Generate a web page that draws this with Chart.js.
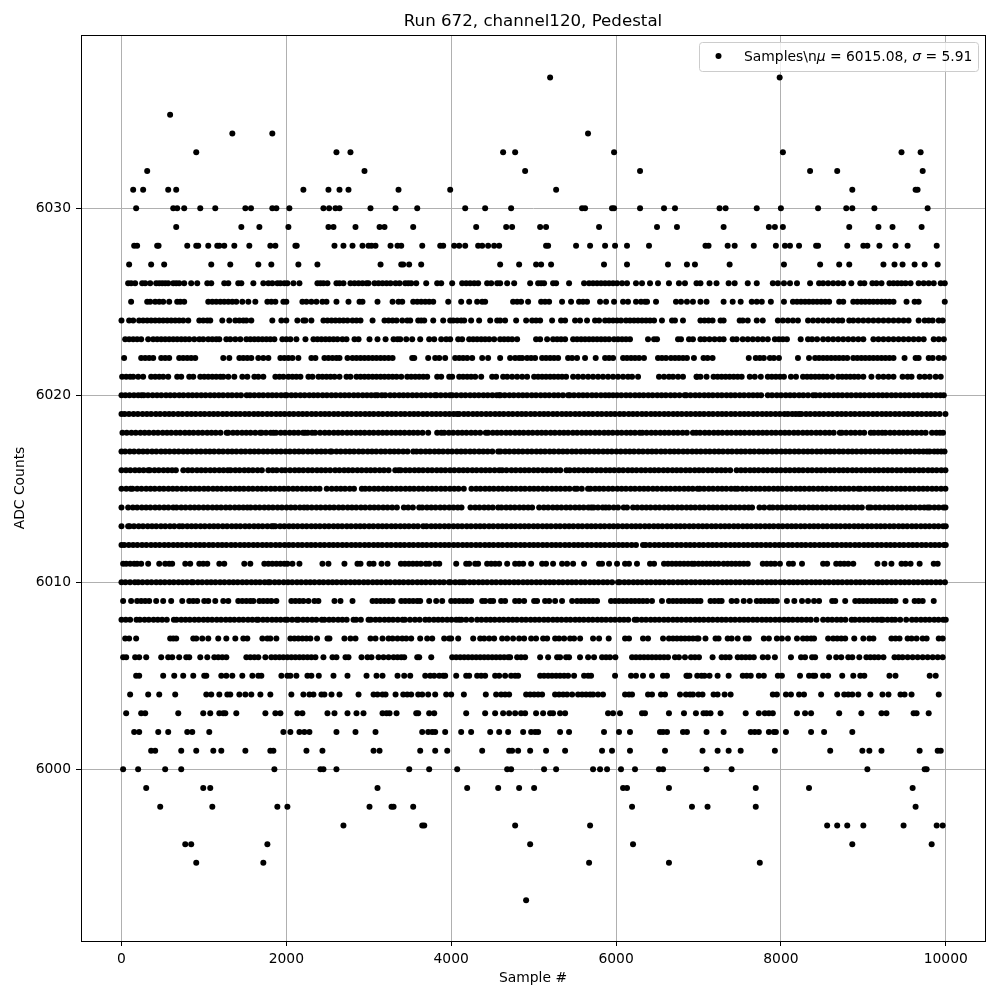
<!DOCTYPE html>
<html>
<head>
<meta charset="utf-8">
<title>Run 672, channel120, Pedestal</title>
<script src="https://cdn.jsdelivr.net/npm/chart.js@4"></script>
<style>
  html, body { margin: 0; padding: 0; background: #fff; }
  canvas { display: block; }
</style>
</head>
<body>
<canvas id="pedestalChart" width="1000" height="1000"></canvas>
<script>
const xTicks = [0, 2000, 4000, 6000, 8000, 10000];
const yTicks = [6000, 6010, 6020, 6030];

// Sample numbers, one list per ADC level
const adc6037 = [5200, 7985];
const adc6035 = [590];
const adc6034 = [1345, 1830, 5660];
const adc6033 = [907, 2608, 2778, 4630, 4776, 5976, 8024, 9463, 9695];
const adc6032 = [312, 2948, 4897, 6291, 8354, 8683, 9720];
const adc6031 = [142, 263, 567, 664, 2207, 2511, 2645, 2754, 3361, 3988, 5273, 8866, 9634, 9658];
const adc6030 = [178, 628, 676, 761, 956, 1138, 1503, 1571, 1830, 1879, 2037, 2450, 2519, 2596, 2645, 3021, 3325, 3588, 4170, 4412, 4727, 5588, 5624, 5951, 5976, 6291, 6582, 6715, 7256, 7329, 7707, 8000, 8451, 8793, 8866, 9134, 9780];
const adc6029 = [664, 1454, 1673, 2025, 2511, 2572, 2839, 3131, 3191, 3539, 4303, 4667, 4739, 5079, 5151, 5794, 6497, 6739, 7305, 7854, 7927, 8024, 8829, 9183, 9354, 9707];
const adc6028 = [154, 190, 433, 450, 798, 907, 931, 1053, 1162, 1187, 1247, 1369, 1551, 1806, 1867, 2110, 2126, 2584, 2693, 2803, 2924, 2997, 3033, 3082, 3264, 3349, 3394, 3649, 3867, 3903, 4036, 4097, 4170, 4327, 4376, 4448, 4521, 4582, 5151, 5176, 5515, 5685, 5867, 5988, 6133, 6400, 7085, 7122, 7354, 7439, 7671, 7939, 8049, 8110, 8220, 8427, 8451, 8805, 9000, 9049, 9195, 9390, 9537, 9890];
const adc6027 = [93, 360, 518, 1089, 1320, 1660, 1818, 2146, 2377, 3143, 3394, 3418, 3490, 3636, 4594, 4824, 5030, 5091, 5212, 5854, 6133, 6630, 6860, 6957, 7378, 8037, 8476, 8707, 8829, 9244, 9378, 9476, 9622, 9744, 9902];
const adc6026 = [81, 117, 166, 251, 288, 348, 421, 458, 494, 530, 567, 628, 664, 700, 761, 846, 919, 1041, 1089, 1247, 1296, 1417, 1454, 1600, 1721, 1782, 1830, 1891, 1928, 1976, 2013, 2086, 2159, 2377, 2414, 2450, 2499, 2608, 2645, 2693, 2778, 2827, 2876, 2924, 2973, 2997, 3070, 3118, 3167, 3216, 3264, 3325, 3374, 3442, 3479, 3515, 3576, 3697, 3830, 3879, 4012, 4133, 4182, 4230, 4279, 4327, 4436, 4485, 4558, 4594, 4679, 4764, 4958, 5055, 5091, 5127, 5236, 5273, 5430, 5612, 5673, 5721, 5770, 5818, 5867, 5915, 5964, 6012, 6073, 6133, 6242, 6315, 6412, 6509, 6642, 6763, 6836, 6976, 7024, 7134, 7219, 7366, 7439, 7598, 7707, 7902, 7963, 8037, 8110, 8195, 8354, 8463, 8512, 8573, 8634, 8695, 8756, 8854, 8963, 9012, 9110, 9159, 9220, 9317, 9366, 9415, 9463, 9512, 9573, 9671, 9732, 9793, 9854, 9939, 9988];
const adc6025 = [117, 312, 348, 409, 458, 506, 579, 676, 713, 761, 1053, 1102, 1150, 1199, 1247, 1296, 1345, 1393, 1466, 1539, 1624, 1770, 1818, 1867, 1964, 2000, 2195, 2244, 2304, 2365, 2438, 2487, 2608, 2754, 2888, 2924, 3106, 3289, 3361, 3406, 3539, 3588, 3636, 3685, 3733, 3782, 3964, 4121, 4218, 4315, 4376, 4412, 4751, 4800, 4848, 4933, 5091, 5139, 5188, 5345, 5454, 5551, 5600, 5648, 5806, 5879, 5976, 6085, 6145, 6242, 6303, 6351, 6376, 6485, 6727, 6788, 6860, 6933, 7024, 7098, 7305, 7415, 7512, 7646, 7707, 7768, 7878, 8037, 8146, 8195, 8244, 8293, 8341, 8390, 8439, 8488, 8537, 8585, 8707, 8756, 8878, 8927, 8976, 9024, 9073, 9122, 9171, 9220, 9268, 9317, 9366, 9524, 9622, 9671, 9988];
const adc6024 = [0, 93, 142, 214, 263, 312, 360, 409, 458, 506, 555, 603, 652, 700, 749, 810, 944, 992, 1041, 1077, 1223, 1308, 1381, 1430, 1478, 1515, 1575, 1830, 1940, 2000, 2134, 2207, 2231, 2304, 2450, 2499, 2548, 2596, 2645, 2693, 2742, 2803, 2851, 2900, 3046, 3191, 3240, 3289, 3337, 3406, 3467, 3503, 3600, 3636, 3673, 3782, 3903, 3988, 4024, 4073, 4121, 4158, 4242, 4339, 4473, 4558, 4594, 4654, 4788, 4909, 4982, 5030, 5079, 5224, 5333, 5382, 5503, 5563, 5648, 5745, 5794, 5867, 5915, 5964, 6012, 6060, 6121, 6169, 6218, 6266, 6315, 6364, 6412, 6461, 6557, 6679, 6715, 6812, 7024, 7073, 7122, 7171, 7268, 7305, 7500, 7537, 7598, 7707, 7780, 7963, 8024, 8085, 8146, 8207, 8329, 8390, 8451, 8512, 8573, 8634, 8695, 8744, 8829, 8878, 8939, 9000, 9061, 9122, 9183, 9244, 9305, 9366, 9427, 9488, 9549, 9671, 9744, 9793, 9841, 9915, 9963];
const adc6023 = [45, 93, 142, 190, 239, 324, 385, 433, 482, 530, 579, 628, 676, 725, 773, 822, 883, 944, 992, 1053, 1102, 1150, 1187, 1272, 1320, 1381, 1442, 1515, 1563, 1612, 1660, 1709, 1758, 1806, 1855, 1952, 2000, 2049, 2122, 2232, 2329, 2377, 2426, 2475, 2523, 2572, 2620, 2681, 2730, 2827, 2876, 3009, 3106, 3204, 3301, 3349, 3382, 3455, 3527, 3624, 3733, 3794, 3879, 3939, 3988, 4085, 4133, 4218, 4267, 4315, 4364, 4412, 4461, 4521, 4594, 4642, 4691, 4739, 4800, 5030, 5079, 5164, 5236, 5285, 5333, 5382, 5479, 5527, 5576, 5624, 5673, 5721, 5770, 5818, 5867, 5915, 5976, 6024, 6073, 6121, 6169, 6388, 6461, 6497, 6752, 6788, 6885, 6933, 7024, 7073, 7134, 7195, 7256, 7305, 7415, 7463, 7537, 7598, 7659, 7720, 7780, 7841, 7927, 7976, 8024, 8073, 8240, 8329, 8378, 8439, 8512, 8573, 8634, 8695, 8756, 8817, 8878, 8939, 9000, 9122, 9183, 9244, 9305, 9366, 9427, 9488, 9549, 9610, 9671, 9732, 9854, 9915, 9976];
const adc6022 = [32, 239, 288, 336, 385, 482, 530, 579, 700, 749, 798, 846, 895, 1235, 1308, 1430, 1478, 1527, 1575, 1660, 1721, 1782, 1928, 1976, 2025, 2074, 2146, 2304, 2353, 2462, 2511, 2560, 2608, 2645, 2742, 2803, 2851, 2900, 2948, 2997, 3046, 3094, 3143, 3191, 3240, 3289, 3527, 3552, 3721, 3806, 3855, 3927, 4048, 4097, 4145, 4194, 4255, 4376, 4448, 4594, 4715, 4776, 4824, 4861, 4921, 4970, 5018, 5103, 5151, 5200, 5248, 5297, 5418, 5467, 5527, 5624, 5753, 5867, 5915, 5964, 6085, 6133, 6182, 6230, 6279, 6339, 6509, 6557, 6606, 6666, 6715, 6763, 6812, 6860, 6945, 7061, 7110, 7171, 7610, 7695, 7744, 7793, 7866, 7915, 7976, 8207, 8341, 8415, 8463, 8512, 8561, 8610, 8659, 8707, 8756, 8805, 8878, 8927, 8976, 9024, 9073, 9122, 9171, 9220, 9268, 9317, 9366, 9500, 9634, 9671, 9793, 9841, 9915, 9976];
const adc6021 = [8, 57, 105, 142, 203, 263, 360, 409, 458, 506, 567, 676, 725, 822, 871, 956, 1004, 1053, 1102, 1150, 1199, 1235, 1296, 1369, 1466, 1527, 1612, 1660, 1721, 1867, 1916, 1964, 2025, 2074, 2122, 2171, 2268, 2317, 2390, 2438, 2487, 2536, 2584, 2645, 2730, 2778, 2851, 2900, 2948, 2997, 3046, 3094, 3143, 3191, 3240, 3289, 3337, 3394, 3467, 3515, 3564, 3612, 3661, 3709, 3830, 3879, 3976, 4012, 4097, 4145, 4194, 4242, 4291, 4364, 4497, 4545, 4630, 4679, 4739, 4800, 4861, 4921, 5006, 5055, 5103, 5151, 5200, 5248, 5297, 5345, 5394, 5479, 5539, 5600, 5661, 5721, 5782, 5842, 5903, 5964, 6024, 6085, 6145, 6194, 6267, 6521, 6582, 6642, 6691, 6752, 6812, 6981, 6976, 7024, 7098, 7183, 7232, 7281, 7329, 7378, 7427, 7476, 7524, 7622, 7683, 7756, 7841, 7890, 7939, 7988, 8037, 8122, 8183, 8268, 8317, 8366, 8415, 8463, 8512, 8561, 8622, 8695, 8744, 8793, 8841, 8890, 8939, 9000, 9098, 9183, 9244, 9305, 9366, 9476, 9537, 9585, 9683, 9744, 9805, 9878, 9939];
const adc6020 = [0, 47, 98, 151, 203, 243, 271, 322, 378, 431, 483, 540, 592, 644, 701, 752, 809, 861, 913, 968, 1020, 1076, 1128, 1181, 1233, 1290, 1342, 1398, 1450, 1519, 1560, 1612, 1668, 1720, 1777, 1829, 1881, 1937, 1985, 2005, 2061, 2113, 2170, 2222, 2279, 2331, 2383, 2440, 2492, 2548, 2600, 2657, 2709, 2761, 2818, 2870, 2926, 2978, 3030, 3078, 3106, 3158, 3200, 3260, 3312, 3369, 3421, 3473, 3530, 3582, 3639, 3691, 3748, 3802, 3822, 3874, 3931, 3984, 4012, 4064, 4121, 4173, 4230, 4282, 4334, 4391, 4443, 4500, 4552, 4582, 4598, 4650, 4707, 4759, 4816, 4868, 4920, 4977, 5029, 5086, 5138, 5190, 5247, 5299, 5356, 5418, 5438, 5490, 5547, 5599, 5651, 5708, 5760, 5817, 5869, 5915, 5964, 6012, 6064, 6121, 6173, 6230, 6282, 6334, 6391, 6443, 6500, 6552, 6604, 6661, 6713, 6770, 6832, 6852, 6904, 6961, 7013, 7070, 7122, 7174, 7231, 7283, 7340, 7392, 7444, 7501, 7553, 7610, 7662, 7714, 7760, 7841, 7893, 7950, 8002, 8059, 8111, 8163, 8220, 8272, 8329, 8390, 8423, 8475, 8532, 8584, 8641, 8693, 8745, 8802, 8854, 8911, 8963, 9015, 9072, 9124, 9181, 9233, 9285, 9342, 9394, 9451, 9503, 9555, 9612, 9664, 9721, 9773, 9825, 9882, 9934, 9976];
const adc6019 = [0, 38, 91, 147, 199, 256, 308, 360, 417, 469, 526, 578, 630, 687, 739, 796, 848, 900, 957, 1009, 1066, 1118, 1170, 1227, 1279, 1336, 1388, 1440, 1497, 1549, 1606, 1658, 1710, 1767, 1819, 1876, 1928, 1980, 2037, 2089, 2146, 2198, 2250, 2307, 2359, 2416, 2468, 2520, 2577, 2629, 2686, 2738, 2790, 2847, 2899, 2956, 3008, 3060, 3117, 3169, 3226, 3278, 3330, 3387, 3439, 3496, 3548, 3600, 3657, 3709, 3766, 3818, 3870, 3927, 3979, 4030, 4073, 4097, 4154, 4206, 4263, 4315, 4367, 4424, 4476, 4533, 4585, 4637, 4694, 4746, 4803, 4855, 4907, 4964, 5016, 5073, 5125, 5177, 5234, 5286, 5343, 5395, 5447, 5504, 5556, 5613, 5665, 5717, 5774, 5826, 5883, 5935, 5987, 6044, 6096, 6153, 6205, 6257, 6314, 6366, 6423, 6475, 6527, 6584, 6636, 6693, 6745, 6797, 6854, 6906, 6963, 7015, 7067, 7124, 7176, 7233, 7285, 7337, 7394, 7446, 7503, 7555, 7607, 7664, 7716, 7773, 7825, 7877, 7934, 7986, 8043, 8085, 8138, 8180, 8220, 8248, 8305, 8357, 8414, 8466, 8518, 8575, 8627, 8684, 8736, 8788, 8845, 8897, 8954, 9006, 9058, 9115, 9167, 9224, 9276, 9328, 9385, 9437, 9494, 9546, 9598, 9655, 9707, 9764, 9816, 9868, 9925, 9996];
const adc6018 = [12, 64, 121, 173, 230, 282, 334, 391, 443, 500, 552, 604, 661, 713, 770, 822, 874, 931, 983, 1040, 1092, 1144, 1201, 1276, 1296, 1353, 1405, 1462, 1514, 1566, 1623, 1681, 1701, 1753, 1810, 1843, 1875, 1932, 1984, 2041, 2093, 2145, 2202, 2228, 2260, 2312, 2349, 2410, 2467, 2519, 2576, 2628, 2680, 2737, 2789, 2846, 2898, 2950, 3007, 3059, 3116, 3168, 3220, 3277, 3329, 3382, 3434, 3491, 3543, 3595, 3652, 3721, 3830, 3880, 3915, 3972, 4024, 4081, 4133, 4185, 4242, 4294, 4351, 4420, 4448, 4505, 4557, 4609, 4666, 4718, 4775, 4827, 4879, 4936, 4988, 5045, 5097, 5149, 5206, 5258, 5315, 5367, 5419, 5476, 5528, 5585, 5637, 5689, 5746, 5798, 5855, 5907, 5959, 6016, 6068, 6125, 6177, 6229, 6287, 6319, 6371, 6428, 6480, 6537, 6589, 6641, 6698, 6750, 6807, 6859, 6933, 6973, 7020, 7077, 7129, 7186, 7238, 7290, 7347, 7399, 7456, 7508, 7560, 7617, 7669, 7726, 7778, 7830, 7887, 7939, 7996, 8048, 8100, 8157, 8209, 8266, 8318, 8370, 8427, 8479, 8536, 8588, 8640, 8715, 8740, 8792, 8849, 8901, 8958, 9010, 9090, 9130, 9182, 9228, 9268, 9325, 9377, 9434, 9486, 9538, 9595, 9647, 9704, 9756, 9833, 9886, 9930, 9967];
const adc6017 = [0, 44, 101, 153, 210, 262, 314, 371, 423, 480, 532, 584, 641, 693, 750, 802, 854, 911, 963, 1020, 1072, 1124, 1181, 1233, 1290, 1342, 1394, 1451, 1503, 1560, 1612, 1664, 1721, 1773, 1830, 1882, 1934, 1991, 2043, 2100, 2152, 2204, 2261, 2313, 2370, 2422, 2474, 2531, 2551, 2608, 2660, 2717, 2769, 2821, 2878, 2930, 2987, 3039, 3091, 3148, 3200, 3257, 3309, 3361, 3418, 3470, 3540, 3580, 3632, 3689, 3741, 3798, 3850, 3902, 3959, 4011, 4068, 4120, 4172, 4229, 4281, 4338, 4390, 4442, 4499, 4570, 4598, 4655, 4707, 4764, 4816, 4868, 4925, 4977, 5034, 5086, 5138, 5195, 5247, 5304, 5356, 5408, 5465, 5517, 5574, 5626, 5678, 5735, 5787, 5844, 5896, 5948, 6005, 6057, 6114, 6166, 6218, 6275, 6327, 6384, 6436, 6488, 6545, 6597, 6654, 6706, 6758, 6815, 6867, 6924, 6976, 7028, 7085, 7137, 7194, 7246, 7298, 7355, 7407, 7464, 7516, 7568, 7625, 7677, 7734, 7786, 7838, 7895, 7947, 8004, 8056, 8108, 8165, 8217, 8274, 8326, 8378, 8435, 8487, 8544, 8596, 8648, 8705, 8757, 8814, 8866, 8918, 8975, 9027, 9084, 9136, 9188, 9245, 9297, 9354, 9406, 9458, 9515, 9567, 9624, 9676, 9728, 9772, 9805, 9860, 9902, 9945, 9985];
const adc6016 = [0, 55, 107, 164, 216, 268, 324, 344, 401, 453, 510, 562, 614, 660, 750, 807, 859, 916, 968, 1020, 1077, 1129, 1186, 1238, 1290, 1324, 1381, 1433, 1490, 1542, 1594, 1651, 1703, 1782, 1835, 1883, 1944, 1988, 2045, 2102, 2154, 2206, 2263, 2315, 2372, 2424, 2476, 2531, 2592, 2644, 2701, 2753, 2805, 2862, 2914, 2971, 3023, 3075, 3132, 3184, 3241, 3321, 3361, 3389, 3446, 3498, 3555, 3607, 3659, 3716, 3768, 3825, 3877, 3929, 3986, 4038, 4095, 4147, 4199, 4256, 4308, 4365, 4417, 4469, 4526, 4582, 4618, 4671, 4731, 4783, 4840, 4892, 4944, 5001, 5053, 5110, 5162, 5214, 5271, 5323, 5398, 5438, 5495, 5547, 5604, 5656, 5708, 5765, 5817, 5874, 5926, 5978, 6035, 6087, 6144, 6196, 6248, 6305, 6357, 6414, 6466, 6518, 6575, 6627, 6684, 6736, 6788, 6845, 6897, 6954, 7006, 7058, 7115, 7167, 7224, 7276, 7328, 7385, 7463, 7516, 7568, 7625, 7677, 7729, 7786, 7838, 7895, 7947, 7999, 8056, 8108, 8165, 8217, 8269, 8326, 8378, 8435, 8487, 8539, 8596, 8648, 8705, 8757, 8809, 8866, 8918, 8975, 9027, 9079, 9136, 9188, 9245, 9297, 9349, 9406, 9458, 9515, 9567, 9619, 9676, 9728, 9785, 9837, 9889, 9946, 9996];
const adc6015 = [0, 58, 110, 134, 191, 243, 300, 352, 404, 461, 513, 570, 622, 674, 731, 783, 840, 892, 944, 1001, 1053, 1110, 1162, 1214, 1271, 1323, 1380, 1432, 1484, 1541, 1593, 1650, 1702, 1754, 1811, 1863, 1920, 1972, 2024, 2081, 2133, 2190, 2242, 2294, 2351, 2403, 2490, 2551, 2608, 2660, 2712, 2769, 2821, 2916, 2957, 3009, 3066, 3118, 3175, 3227, 3279, 3336, 3388, 3445, 3497, 3549, 3606, 3658, 3715, 3767, 3819, 3876, 3928, 3985, 4037, 4089, 4153, 4246, 4303, 4355, 4412, 4464, 4516, 4573, 4625, 4682, 4734, 4786, 4843, 4895, 4952, 5004, 5056, 5113, 5165, 5222, 5274, 5326, 5383, 5435, 5500, 5527, 5584, 5660, 5689, 5746, 5798, 5850, 5907, 5959, 6016, 6068, 6120, 6177, 6229, 6286, 6338, 6390, 6447, 6499, 6556, 6608, 6660, 6717, 6769, 6826, 6878, 6930, 6988, 7016, 7068, 7125, 7177, 7234, 7286, 7338, 7395, 7443, 7476, 7533, 7585, 7642, 7694, 7746, 7803, 7855, 7912, 7964, 8016, 8073, 8125, 8182, 8234, 8286, 8343, 8395, 8452, 8504, 8556, 8613, 8665, 8722, 8774, 8826, 8883, 8939, 8967, 9024, 9076, 9133, 9185, 9237, 9294, 9346, 9403, 9455, 9507, 9564, 9616, 9673, 9725, 9777, 9834, 9886, 9943, 9996];
const adc6014 = [0, 81, 138, 190, 247, 299, 351, 408, 460, 517, 569, 628, 668, 725, 777, 834, 886, 938, 995, 1047, 1104, 1156, 1208, 1265, 1317, 1374, 1426, 1478, 1527, 1567, 1624, 1676, 1733, 1785, 1837, 1894, 1946, 2003, 2055, 2107, 2164, 2215, 2256, 2308, 2365, 2417, 2474, 2526, 2578, 2635, 2687, 2744, 2796, 2848, 2905, 2957, 3014, 3066, 3118, 3175, 3227, 3284, 3341, 3426, 3478, 3535, 3612, 3649, 3706, 3758, 3810, 3867, 3919, 3976, 4028, 4080, 4125, 4234, 4291, 4343, 4400, 4452, 4504, 4570, 4610, 4667, 4719, 4771, 4828, 4880, 4933, 4982, 5067, 5124, 5176, 5233, 5285, 5337, 5394, 5446, 5503, 5555, 5607, 5664, 5700, 5729, 5781, 5838, 5875, 5915, 5972, 6024, 6093, 6133, 6206, 6258, 6315, 6367, 6419, 6476, 6528, 6585, 6637, 6689, 6746, 6798, 6855, 6907, 6959, 7016, 7068, 7125, 7177, 7229, 7286, 7338, 7395, 7447, 7499, 7556, 7608, 7650, 7740, 7797, 7862, 7902, 7959, 8011, 8068, 8120, 8172, 8229, 8281, 8338, 8390, 8442, 8499, 8551, 8608, 8660, 8712, 8769, 8821, 8878, 8930, 8982, 9061, 9090, 9147, 9199, 9256, 9308, 9360, 9417, 9469, 9526, 9578, 9630, 9687, 9739, 9780, 9805, 9862, 9914, 9971, 9996];
const adc6013 = [0, 81, 100, 152, 209, 261, 318, 370, 422, 479, 531, 588, 640, 700, 741, 798, 850, 902, 959, 1011, 1068, 1120, 1172, 1229, 1281, 1338, 1390, 1442, 1499, 1551, 1608, 1660, 1712, 1769, 1821, 1843, 1867, 1924, 1976, 2033, 2085, 2137, 2194, 2246, 2303, 2355, 2407, 2464, 2516, 2573, 2625, 2677, 2734, 2786, 2843, 2895, 2947, 3004, 3056, 3113, 3165, 3217, 3274, 3326, 3383, 3435, 3487, 3544, 3596, 3660, 3701, 3758, 3810, 3862, 3919, 3971, 4028, 4080, 4132, 4189, 4241, 4298, 4350, 4402, 4459, 4511, 4568, 4620, 4672, 4729, 4781, 4838, 4890, 4942, 4999, 5051, 5108, 5160, 5212, 5269, 5321, 5378, 5430, 5482, 5539, 5591, 5648, 5700, 5752, 5809, 5861, 5918, 5970, 6022, 6079, 6131, 6188, 6240, 6292, 6349, 6401, 6458, 6510, 6562, 6619, 6671, 6728, 6780, 6832, 6889, 6941, 6998, 7050, 7102, 7159, 7211, 7268, 7320, 7372, 7429, 7481, 7538, 7590, 7642, 7699, 7751, 7808, 7860, 7912, 7969, 8021, 8078, 8130, 8182, 8239, 8291, 8348, 8400, 8452, 8509, 8561, 8618, 8670, 8722, 8779, 8831, 8888, 8940, 8992, 9049, 9101, 9158, 9210, 9262, 9319, 9371, 9428, 9480, 9532, 9589, 9641, 9698, 9750, 9802, 9859, 9911, 9968, 10000];
const adc6012 = [0, 34, 89, 141, 193, 250, 302, 359, 411, 463, 520, 572, 629, 681, 733, 790, 842, 899, 951, 1003, 1060, 1112, 1169, 1221, 1273, 1330, 1382, 1439, 1491, 1543, 1600, 1652, 1709, 1761, 1813, 1870, 1922, 1979, 2031, 2083, 2140, 2192, 2249, 2301, 2353, 2410, 2462, 2519, 2571, 2623, 2680, 2732, 2789, 2841, 2893, 2950, 3002, 3059, 3111, 3163, 3220, 3272, 3329, 3381, 3433, 3490, 3542, 3599, 3651, 3703, 3760, 3812, 3869, 3921, 3973, 4030, 4082, 4139, 4191, 4243, 4300, 4352, 4409, 4461, 4513, 4570, 4622, 4679, 4731, 4783, 4840, 4892, 4949, 5001, 5053, 5110, 5162, 5219, 5271, 5323, 5380, 5432, 5489, 5541, 5593, 5650, 5702, 5759, 5811, 5863, 5920, 5972, 6029, 6081, 6133, 6190, 6242, 6327, 6359, 6411, 6468, 6520, 6577, 6629, 6681, 6738, 6790, 6847, 6899, 6951, 7008, 7060, 7117, 7169, 7221, 7278, 7330, 7387, 7439, 7491, 7548, 7600, 7657, 7709, 7761, 7818, 7870, 7927, 7979, 8031, 8088, 8140, 8197, 8249, 8301, 8358, 8410, 8467, 8519, 8571, 8628, 8680, 8737, 8789, 8841, 8898, 8950, 9007, 9059, 9111, 9168, 9220, 9277, 9329, 9381, 9438, 9490, 9547, 9599, 9651, 9708, 9760, 9817, 9869, 9921, 9978, 10000];
const adc6011 = [20, 57, 105, 154, 190, 239, 324, 458, 530, 579, 615, 774, 834, 944, 992, 1041, 1187, 1247, 1490, 1563, 1733, 1782, 1830, 1879, 1928, 1976, 2013, 2074, 2159, 2438, 2511, 2705, 2863, 2900, 3009, 3058, 3155, 3228, 3390, 3438, 3487, 3535, 3584, 3632, 3693, 3733, 3806, 3855, 4061, 4182, 4218, 4291, 4327, 4436, 4485, 4533, 4582, 4679, 4776, 4824, 4873, 4970, 5103, 5151, 5236, 5345, 5406, 5479, 5612, 5794, 5830, 5915, 6012, 6109, 6157, 6254, 6412, 6461, 6582, 6630, 6679, 6727, 6776, 6824, 6873, 6921, 6951, 7000, 7049, 7098, 7146, 7195, 7244, 7305, 7354, 7402, 7451, 7500, 7549, 7598, 7780, 7829, 7878, 7927, 7988, 8098, 8146, 8256, 8512, 8561, 8671, 8720, 8768, 8817, 8878, 9171, 9256, 9341, 9463, 9512, 9573, 9683, 9854, 9902];
const adc6010 = [0, 48, 104, 162, 203, 255, 312, 364, 421, 473, 525, 582, 634, 691, 743, 795, 850, 870, 927, 979, 1036, 1088, 1140, 1197, 1249, 1306, 1358, 1410, 1467, 1519, 1576, 1628, 1680, 1737, 1782, 1802, 1859, 1911, 1968, 2020, 2072, 2129, 2181, 2238, 2290, 2342, 2399, 2451, 2508, 2560, 2612, 2669, 2721, 2778, 2830, 2882, 2939, 2991, 3048, 3100, 3152, 3209, 3261, 3318, 3370, 3422, 3479, 3531, 3588, 3640, 3692, 3749, 3801, 3858, 3910, 3972, 3992, 4049, 4101, 4137, 4166, 4223, 4275, 4332, 4384, 4436, 4493, 4545, 4602, 4654, 4706, 4763, 4815, 4872, 4924, 4976, 5033, 5085, 5142, 5194, 5246, 5303, 5355, 5412, 5464, 5516, 5573, 5625, 5682, 5734, 5786, 5843, 5895, 5952, 6024, 6044, 6101, 6153, 6210, 6262, 6314, 6371, 6423, 6480, 6532, 6584, 6641, 6693, 6750, 6802, 6854, 6911, 6963, 7020, 7072, 7124, 7181, 7233, 7290, 7342, 7394, 7451, 7503, 7560, 7612, 7664, 7721, 7773, 7830, 7882, 7934, 7991, 8043, 8100, 8152, 8204, 8261, 8313, 8370, 8422, 8474, 8531, 8583, 8640, 8692, 8744, 8801, 8853, 8910, 8962, 9014, 9071, 9123, 9180, 9232, 9284, 9341, 9393, 9450, 9502, 9554, 9611, 9663, 9720, 9772, 9824, 9881, 9933, 9990];
const adc6009 = [20, 117, 190, 239, 288, 336, 421, 506, 603, 737, 822, 871, 919, 1004, 1053, 1138, 1235, 1296, 1417, 1466, 1515, 1563, 1600, 1673, 1721, 1770, 1818, 1879, 2061, 2110, 2159, 2207, 2268, 2341, 2389, 2584, 2657, 2803, 3046, 3094, 3143, 3191, 3240, 3289, 3394, 3442, 3491, 3539, 3588, 3624, 3733, 3818, 3891, 4000, 4048, 4097, 4145, 4194, 4242, 4376, 4412, 4473, 4509, 4606, 4654, 4776, 4824, 4885, 5006, 5042, 5139, 5188, 5261, 5345, 5467, 5527, 5576, 5624, 5673, 5721, 5770, 5939, 5988, 6036, 6085, 6133, 6182, 6230, 6279, 6327, 6376, 6436, 6557, 6642, 6691, 6739, 6788, 6836, 6885, 6933, 6981, 7024, 7146, 7195, 7244, 7281, 7402, 7463, 7549, 7622, 7707, 7756, 7805, 7854, 7902, 7951, 8073, 8163, 8256, 8329, 8402, 8463, 8622, 8659, 8780, 8902, 8951, 9000, 9049, 9098, 9146, 9195, 9244, 9293, 9341, 9390, 9512, 9622, 9671, 9720, 9854];
const adc6008 = [0, 52, 105, 182, 223, 280, 332, 389, 441, 493, 550, 636, 668, 725, 777, 829, 886, 938, 995, 1047, 1099, 1156, 1208, 1265, 1317, 1369, 1426, 1478, 1535, 1587, 1640, 1660, 1717, 1769, 1826, 1878, 1930, 1985, 2013, 2070, 2126, 2146, 2203, 2255, 2312, 2364, 2430, 2462, 2519, 2571, 2628, 2680, 2732, 2815, 2847, 2904, 2997, 3025, 3082, 3134, 3191, 3243, 3295, 3352, 3410, 3438, 3500, 3560, 3617, 3685, 3733, 3790, 3842, 3894, 3951, 4003, 4060, 4097, 4125, 4182, 4246, 4315, 4367, 4424, 4476, 4528, 4585, 4637, 4694, 4746, 4798, 4855, 4907, 4964, 5016, 5068, 5125, 5177, 5234, 5286, 5338, 5395, 5447, 5504, 5556, 5608, 5665, 5717, 5774, 5826, 5878, 5935, 5987, 6044, 6096, 6148, 6226, 6254, 6311, 6363, 6420, 6472, 6524, 6581, 6633, 6690, 6742, 6794, 6851, 6903, 6960, 7012, 7064, 7121, 7173, 7230, 7282, 7334, 7391, 7443, 7500, 7552, 7604, 7661, 7713, 7770, 7822, 7874, 7931, 7983, 8040, 8092, 8144, 8201, 8253, 8310, 8362, 8431, 8512, 8569, 8621, 8678, 8730, 8782, 8858, 8898, 8955, 9007, 9059, 9116, 9168, 9215, 9236, 9293, 9345, 9386, 9447, 9520, 9590, 9642, 9699, 9751, 9803, 9860, 9912, 9969, 10000];
const adc6007 = [45, 93, 178, 591, 628, 664, 871, 907, 980, 1053, 1174, 1272, 1381, 1478, 1527, 1709, 1770, 1806, 1879, 2049, 2098, 2146, 2195, 2244, 2292, 2373, 2499, 2523, 2705, 2778, 2839, 3021, 3082, 3167, 3240, 3289, 3349, 3406, 3455, 3515, 3624, 3709, 3770, 3915, 3976, 4000, 4085, 4267, 4352, 4400, 4461, 4521, 4618, 4679, 4751, 4824, 4885, 4970, 5030, 5115, 5164, 5261, 5309, 5370, 5442, 5491, 5564, 5721, 5794, 5911, 6109, 6157, 6327, 6388, 6570, 6642, 6691, 6739, 6788, 6836, 6885, 6933, 6981, 7000, 7085, 7207, 7244, 7354, 7402, 7476, 7573, 7610, 7793, 7854, 7951, 8012, 8085, 8195, 8268, 8317, 8366, 8402, 8573, 8634, 8683, 8732, 8780, 8890, 9000, 9073, 9122, 9341, 9390, 9439, 9537, 9585, 9646, 9719, 9768, 9915, 9963];
const adc6006 = [20, 57, 166, 215, 300, 482, 567, 616, 700, 786, 822, 956, 1041, 1126, 1174, 1223, 1272, 1515, 1563, 1612, 1660, 1746, 1818, 1867, 1916, 1964, 2013, 2061, 2110, 2159, 2207, 2256, 2304, 2353, 2450, 2560, 2608, 2718, 2754, 2912, 2985, 3033, 3118, 3179, 3240, 3301, 3349, 3394, 3430, 3588, 3612, 3758, 4012, 4061, 4109, 4158, 4206, 4255, 4303, 4352, 4400, 4448, 4497, 4545, 4594, 4642, 4691, 4715, 4800, 4848, 4897, 5079, 5176, 5285, 5321, 5394, 5430, 5563, 5661, 5733, 5830, 5879, 5927, 5992, 6194, 6242, 6291, 6339, 6388, 6436, 6485, 6533, 6582, 6630, 6715, 6763, 6836, 6909, 6957, 7006, 7171, 7281, 7329, 7378, 7476, 7524, 7573, 7622, 7671, 7780, 7841, 7927, 8122, 8244, 8293, 8378, 8415, 8585, 8671, 8732, 8817, 8866, 8951, 9037, 9085, 9134, 9183, 9244, 9378, 9427, 9476, 9537, 9598, 9659, 9720, 9780, 9841, 9902, 9963];
const adc6005 = [178, 215, 506, 640, 749, 871, 1004, 1029, 1211, 1272, 1345, 1466, 1588, 1660, 1697, 1940, 2013, 2049, 2122, 2256, 2304, 2394, 2572, 2742, 2973, 3094, 3167, 3349, 3430, 3503, 3685, 3745, 3794, 3855, 3903, 3927, 4061, 4182, 4218, 4315, 4364, 4412, 4533, 4582, 4654, 4727, 4776, 4812, 5079, 5127, 5176, 5224, 5273, 5321, 5370, 5418, 5491, 5612, 5661, 5697, 5988, 6182, 6242, 6327, 6436, 6570, 6618, 6867, 6985, 6854, 6890, 7037, 7073, 7134, 7232, 7366, 7537, 7585, 7634, 7732, 7793, 7963, 8012, 8232, 8341, 8390, 8415, 8512, 8573, 8744, 8878, 8963, 9012, 9317, 9390, 9805, 9878];
const adc6004 = [105, 324, 458, 652, 1029, 1089, 1187, 1284, 1320, 1430, 1503, 1575, 1685, 1806, 2061, 2207, 2280, 2329, 2426, 2462, 2548, 2645, 2876, 3058, 3106, 3167, 3204, 3325, 3418, 3467, 3515, 3600, 3648, 3721, 3806, 3939, 4000, 4154, 4420, 4545, 4606, 4654, 4703, 4909, 4958, 5006, 5055, 5103, 5260, 5309, 5358, 5406, 5467, 5539, 5588, 5636, 5685, 5721, 5782, 5842, 6109, 6157, 6194, 6388, 6436, 6545, 6594, 6776, 6848, 6897, 6933, 7000, 7049, 7183, 7232, 7317, 7390, 7902, 7951, 8061, 8122, 8220, 8280, 8488, 8683, 8768, 8817, 8866, 8939, 9085, 9232, 9305, 9451, 9500, 9585, 9915];
const adc6003 = [57, 239, 288, 689, 992, 1077, 1187, 1235, 1260, 1393, 1746, 1867, 1928, 2134, 2195, 2499, 2584, 2742, 2851, 2936, 3167, 3216, 3252, 3337, 3576, 3600, 3733, 3794, 4182, 4412, 4533, 4630, 4703, 4776, 4848, 4897, 5030, 5115, 5200, 5236, 5321, 5382, 5903, 5964, 6048, 6315, 6351, 6642, 6824, 6969, 7061, 7098, 7146, 7268, 7573, 7732, 7805, 7854, 7902, 8195, 8293, 8366, 8707, 8976, 9220, 9280, 9610, 9646, 9793];
const adc6002 = [154, 215, 446, 567, 798, 859, 1065, 1964, 2049, 2159, 2219, 2280, 2608, 2839, 3082, 3648, 3721, 3770, 3806, 3927, 4121, 4242, 4473, 4582, 4691, 4873, 4970, 5018, 5055, 5321, 5430, 5854, 6036, 6169, 6533, 6570, 6618, 6812, 6860, 7098, 7305, 7634, 7683, 7732, 7854, 7915, 7939, 8061, 8366, 8524, 8866];
const adc6001 = [360, 409, 725, 907, 1114, 1211, 1503, 1806, 1843, 2244, 2438, 3058, 3131, 3624, 3806, 3952, 4376, 4703, 4739, 4812, 4958, 5151, 5382, 5830, 5951, 6169, 6594, 7049, 7232, 7366, 7512, 7927, 8598, 8988, 9073, 9220, 9683, 9902, 9939];
const adc6000 = [20, 202, 530, 725, 1855, 2414, 2450, 2608, 3491, 3733, 4073, 4679, 4727, 5127, 5273, 5721, 5806, 5891, 6060, 6230, 6521, 6570, 7098, 7402, 9049, 9744, 9768];
const adc5999 = [300, 992, 1077, 3106, 4194, 4570, 4824, 5006, 6085, 6133, 6642, 7695, 8341, 9598];
const adc5998 = [470, 1102, 1891, 2013, 3009, 3276, 3301, 3539, 6194, 6921, 7110, 7695, 9634];
const adc5997 = [2693, 3649, 3673, 4776, 5685, 8561, 8683, 8805, 9000, 9488, 9890, 9963];
const adc5996 = [774, 846, 1770, 4958, 6206, 8866, 9829];
const adc5995 = [907, 1721, 5673, 6642, 7744];
const adc5993 = [4909];

const adcLevels = [6037, 6035, 6034, 6033, 6032, 6031, 6030, 6029, 6028, 6027, 6026, 6025, 6024, 6023, 6022, 6021, 6020, 6019, 6018, 6017, 6016, 6015, 6014, 6013, 6012, 6011, 6010, 6009, 6008, 6007, 6006, 6005, 6004, 6003, 6002, 6001, 6000, 5999, 5998, 5997, 5996, 5995, 5993];
const sampleRows = [adc6037, adc6035, adc6034, adc6033, adc6032, adc6031, adc6030, adc6029, adc6028, adc6027, adc6026, adc6025, adc6024, adc6023, adc6022, adc6021, adc6020, adc6019, adc6018, adc6017, adc6016, adc6015, adc6014, adc6013, adc6012, adc6011, adc6010, adc6009, adc6008, adc6007, adc6006, adc6005, adc6004, adc6003, adc6002, adc6001, adc6000, adc5999, adc5998, adc5997, adc5996, adc5995, adc5993];

const fontFamily = '"DejaVu Sans", sans-serif';

const points = [];
adcLevels.forEach((level, i) => {
  sampleRows[i].forEach(sample => points.push({ x: sample, y: level }));
});

// Frame round the axes and the legend box, both in the style of the original
const framePlugin = {
  id: 'frame',
  afterDraw(chart) {
    const { ctx, chartArea: a } = chart;
    ctx.save();
    ctx.strokeStyle = '#000';
    ctx.lineWidth = 1;
    ctx.strokeRect(a.left + 0.5, a.top + 0.5, a.right - a.left, a.bottom - a.top);

    // legend
    ctx.beginPath();
    ctx.roundRect(699.5, 42.5, 279, 29, 3);
    ctx.fillStyle = 'rgba(255,255,255,0.8)';
    ctx.fill();
    ctx.strokeStyle = '#ccc';
    ctx.stroke();

    ctx.beginPath();
    ctx.arc(718.5, 56, 3, 0, Math.PI * 2);
    ctx.fillStyle = '#000';
    ctx.fill();

    const parts = [
      ['Samples\\n', false], ['\u03bc', true], [' = 6015.08, ', false], ['\u03c3', true], [' = 5.91', false]
    ];
    let x = 744;
    ctx.textBaseline = 'alphabetic';
    parts.forEach(([text, italic]) => {
      ctx.font = (italic ? 'italic ' : '') + '13.89px ' + fontFamily;
      ctx.fillText(text, x, 61);
      x += ctx.measureText(text).width;
    });
    ctx.restore();
  }
};

new Chart(document.getElementById('pedestalChart'), {
  type: 'scatter',
  data: {
    datasets: [{
      label: 'Samples',
      data: points,
      backgroundColor: '#000',
      borderWidth: 0,
      pointRadius: 3
    }]
  },
  options: {
    responsive: false,
    animation: false,
    layout: { padding: { right: 15, left: 0, top: 0, bottom: 0 } },
    plugins: {
      legend: { display: false },
      tooltip: { enabled: false },
      title: {
        display: true,
        fullSize: false,
        text: 'Run 672, channel120, Pedestal',
        color: '#000',
        font: { family: fontFamily, size: 16.67, weight: 'normal' },
        padding: { top: 12, bottom: 3 }
      }
    },
    scales: {
      x: {
        type: 'linear',
        min: -491,
        max: 10476,
        afterBuildTicks: axis => { axis.ticks = xTicks.map(value => ({ value })); },
        afterFit: axis => { axis.height = 59; },
        grid: { color: '#b0b0b0', lineWidth: 1, tickColor: '#000', tickLength: 5 },
        border: { color: '#000' },
        ticks: {
          color: '#000',
          maxRotation: 0,
          padding: 5,
          font: { family: fontFamily, size: 13.89 },
          callback: v => String(v)
        },
        title: {
          display: true,
          text: 'Sample #',
          color: '#000',
          font: { family: fontFamily, size: 13.89 },
          padding: { top: 4, bottom: 13 }
        }
      },
      y: {
        type: 'linear',
        min: 5990.82,
        max: 6039.27,
        afterBuildTicks: axis => { axis.ticks = yTicks.map(value => ({ value })); },
        afterFit: axis => { axis.width = 81; },
        grid: { color: '#b0b0b0', lineWidth: 1, tickColor: '#000', tickLength: 5 },
        border: { color: '#000' },
        ticks: {
          color: '#000',
          padding: 5,
          font: { family: fontFamily, size: 13.89 },
          callback: v => String(v)
        },
        title: {
          display: true,
          text: 'ADC Counts',
          color: '#000',
          font: { family: fontFamily, size: 13.89 },
          padding: { top: 12, bottom: 4 }
        }
      }
    }
  },
  plugins: [framePlugin]
});
</script>
</body>
</html>
